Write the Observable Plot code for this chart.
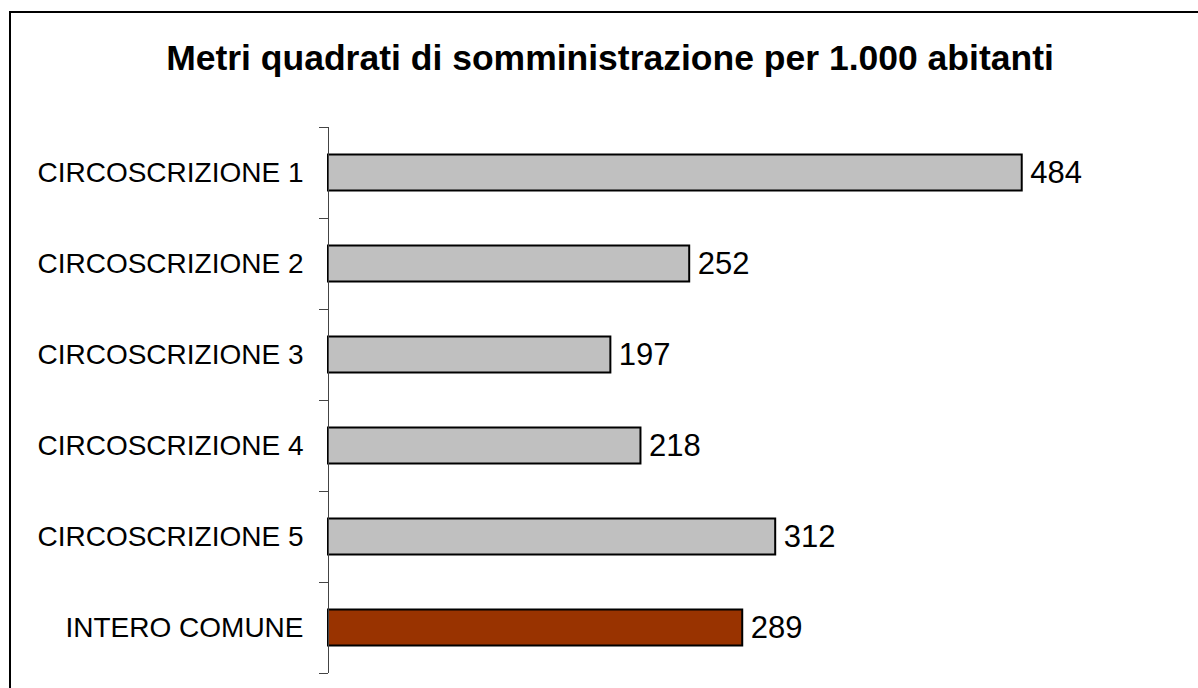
<!DOCTYPE html>
<html>
<head>
<meta charset="utf-8">
<script src="https://cdn.jsdelivr.net/npm/d3@7"></script>
<script src="https://cdn.jsdelivr.net/npm/@observablehq/plot@0.6"></script>
<style>
  html, body { margin: 0; padding: 0; background: #fff; overflow: hidden; width: 1198px; height: 688px; }
  #frame { position: absolute; left: 9px; top: 11px; width: 1300px; height: 800px; border: 2px solid #000; box-sizing: border-box; }
  #title { position: absolute; left: 0; top: 41px; width: 1220px; text-align: center; font-family: "Liberation Sans", Arial, sans-serif; font-weight: bold; font-size: 35.5px; line-height: 35.5px; color: #000; white-space: nowrap; }
  #chart { position: absolute; left: 0; top: 100px; }
</style>
</head>
<body>
<div id="frame"></div>
<div id="title">Metri quadrati di somministrazione per 1.000 abitanti</div>
<div id="chart"></div>
<script>
const categories = ["CIRCOSCRIZIONE 1", "CIRCOSCRIZIONE 2", "CIRCOSCRIZIONE 3", "CIRCOSCRIZIONE 4", "CIRCOSCRIZIONE 5", "INTERO COMUNE"];
const values = [484, 252, 197, 218, 312, 289];
const colors = ["#C0C0C0", "#C0C0C0", "#C0C0C0", "#C0C0C0", "#C0C0C0", "#993300"];

const data = categories.map((c, i) => ({category: c, value: values[i], color: colors[i]}));

const chart = Plot.plot({
  width: 1198,
  height: 588,
  marginLeft: 328,
  marginRight: 10,
  marginTop: 27,
  marginBottom: 15,
  style: {fontFamily: "'Liberation Sans', Arial, sans-serif", background: "transparent", color: "#000"},
  x: {domain: [0, 600], axis: null},
  y: {domain: categories, padding: 0, axis: null, label: null},
  marks: [
    Plot.barX(data, {y: "category", x: "value", fill: "color", stroke: "#000", strokeWidth: 2, insetTop: 27.5, insetBottom: 27.5}),
    Plot.ruleX([0], {stroke: "#444", strokeWidth: 1}),
    Plot.axisY({tickSize: 0, tickPadding: 25, fontSize: 28, anchor: "left", label: null}),
    Plot.axisY({tickSize: 9, dy: -45.5, text: null, anchor: "left", stroke: "#444", label: null}),
    Plot.axisY({ticks: [categories[categories.length - 1]], tickSize: 9, dy: 45.5, text: null, anchor: "left", stroke: "#444", label: null}),
    Plot.text(data, {y: "category", x: "value", text: d => String(d.value), textAnchor: "start", dx: 8, fontSize: 31, fill: "#000"})
  ]
});
document.getElementById("chart").appendChild(chart);
</script>
</body>
</html>
